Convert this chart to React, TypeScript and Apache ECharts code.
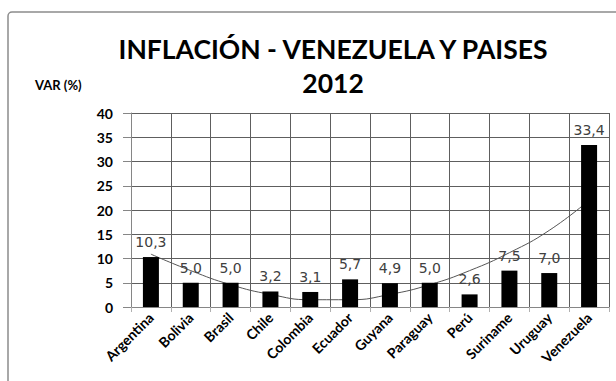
import React, { useEffect, useRef } from "react";
import * as echarts from "echarts";

const categories = ["Argentina", "Bolivia", "Brasil", "Chile", "Colombia", "Ecuador", "Guyana", "Paraguay", "Perú", "Suriname", "Uruguay", "Venezuela"];
const inflation = [10.3, 5.0, 5.0, 3.2, 3.1, 5.7, 4.9, 5.0, 2.6, 7.5, 7.0, 33.4];
const trend = [10.9, 7.5, 4.6, 2.6, 1.5, 1.5, 2.6, 4.6, 7.5, 11.2, 15.8, 22.0];
const titleLines = ["INFLACIÓN - VENEZUELA Y PAISES", "2012"];
const yAxisName = "VAR (%)";

export default function App() {
  const ref = useRef<HTMLDivElement>(null);
  useEffect(() => {
    if (!ref.current) return;
    const chart = echarts.init(ref.current, null, { renderer: "svg" });
    const font = "Lato, 'Open Sans', sans-serif";
    chart.setOption({
      animation: false,
      backgroundColor: "#ffffff",
      graphic: [
        {
          type: "rect",
          shape: { x: 8, y: 12, width: 700, height: 500, r: 4 },
          style: { fill: "none", stroke: "#8c8c8c", lineWidth: 1.5 },
          silent: true,
        },
        {
          type: "text",
          x: 333,
          y: 49,
          style: { text: titleLines[0], fontFamily: font, fontWeight: "bold", fontSize: 26.5, fill: "#000", textAlign: "center", textVerticalAlign: "middle" },
        },
        {
          type: "text",
          x: 333,
          y: 83,
          style: { text: titleLines[1], fontFamily: font, fontWeight: "bold", fontSize: 26.5, fill: "#000", textAlign: "center", textVerticalAlign: "middle" },
        },
        {
          type: "text",
          x: 35,
          y: 85,
          style: { text: yAxisName, fontFamily: font, fontWeight: "bold", fontSize: 13, fill: "#000", textAlign: "left", textVerticalAlign: "middle" },
        },
      ],
      grid: { left: 131, right: 7, top: 113, bottom: 74, containLabel: false },
      xAxis: {
        type: "category",
        data: categories,
        boundaryGap: true,
        axisLine: { show: true, lineStyle: { color: "#868686", width: 1 } },
        axisTick: { show: true, length: 5, alignWithLabel: false, lineStyle: { color: "#b0b0b0" } },
        axisLabel: { interval: 0, rotate: 45, margin: 8, fontFamily: font, fontWeight: "bold", fontSize: 14, color: "#000" },
        splitLine: { show: true, showMinLine: true, showMaxLine: true, lineStyle: { color: "#5e5e5e", width: 1 } },
      },
      yAxis: {
        type: "value",
        min: 0,
        max: 40,
        interval: 5,
        axisLine: { show: true, lineStyle: { color: "#868686", width: 1 } },
        axisTick: { show: true, inside: false, length: 8, lineStyle: { color: "#868686" } },
        axisLabel: { margin: 18, fontFamily: font, fontWeight: "bold", fontSize: 14, color: "#000" },
        splitLine: { show: true, lineStyle: { color: "#5e5e5e", width: 1 } },
      },
      series: [
        {
          type: "line",
          data: trend,
          smooth: true,
          symbol: "none",
          lineStyle: { color: "#555555", width: 1 },
          z: 1,
        },
        {
          type: "bar",
          data: inflation,
          barWidth: 16,
          itemStyle: { color: "#000000" },
          label: {
            show: true,
            position: "top",
            distance: 8,
            fontFamily: "'DejaVu Sans', Verdana, sans-serif",
            fontSize: 14,
            color: "#404040",
            formatter: (p: any) => Number(p.value).toFixed(1).replace(".", ","),
          },
          z: 2,
        },
      ],
    });
    return () => chart.dispose();
  }, []);
  return <div ref={ref} style={{ width: 616, height: 381, position: "absolute", left: 0, top: 0 }} />;
}
